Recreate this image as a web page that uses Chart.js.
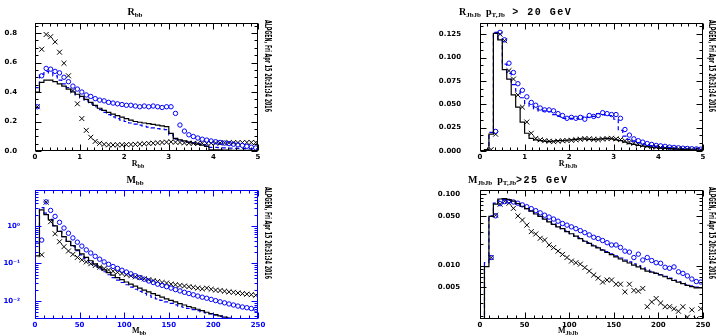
<!DOCTYPE html>
<html>
<head>
<meta charset="utf-8">
<script src="https://cdn.jsdelivr.net/npm/chart.js@4.4.1/dist/chart.umd.min.js"></script>
<style>
  body { margin: 0; background: #fff; }
  #wrap { position: relative; width: 716px; height: 336px; overflow: hidden; }
  canvas { position: absolute; }
</style>
</head>
<body>
<div id="wrap">
  <canvas id="c1" width="358" height="168" style="left:0;top:0"></canvas>
  <canvas id="c2" width="358" height="168" style="left:358px;top:0"></canvas>
  <canvas id="c3" width="358" height="168" style="left:0;top:168px"></canvas>
  <canvas id="c4" width="358" height="168" style="left:358px;top:168px"></canvas>
</div>
<script>
// ---- R_bb (50 bins, 0..5) ----
const rbbTruth = [0.18,0.40,0.465,0.48,0.48,0.47,0.455,0.44,0.42,0.40,
  0.385,0.37,0.35,0.33,0.31,0.29,0.275,0.262,0.25,0.24,
  0.23,0.22,0.21,0.20,0.195,0.19,0.185,0.18,0.175,0.17,
  0.165,0.12,0.085,0.075,0.068,0.06,0.053,0.047,0.04,0.032,
  0.008,0.007,0.007,0.006,0.006,0.005,0.005,0.004,0.004,0.003];
const rbbDash = [0.19,0.43,0.52,0.54,0.53,0.51,0.48,0.455,0.43,0.405,
  0.38,0.36,0.34,0.32,0.30,0.28,0.262,0.247,0.232,0.22,
  0.21,0.20,0.19,0.182,0.175,0.168,0.162,0.157,0.152,0.148,
  0.145,0.11,0.08,0.072,0.066,0.06,0.055,0.05,0.045,0.04,
  0.025,0.024,0.022,0.021,0.02,0.019,0.018,0.017,0.016,0.015];
const rbbCirc = [0.30,0.51,0.56,0.555,0.54,0.53,0.50,0.47,0.44,0.42,
  0.40,0.38,0.37,0.355,0.345,0.34,0.33,0.325,0.32,0.315,
  0.31,0.31,0.305,0.30,0.305,0.30,0.305,0.30,0.295,0.30,
  0.30,0.255,0.176,0.135,0.11,0.098,0.088,0.08,0.074,0.068,
  0.063,0.058,0.054,0.05,0.046,0.042,0.038,0.032,0.026,0.021];
const rbbCross = [0.30,0.69,0.79,0.775,0.74,0.67,0.595,0.51,0.41,0.32,
  0.22,0.14,0.093,0.065,0.052,0.045,0.042,0.041,0.042,0.042,
  0.043,0.044,0.045,0.047,0.049,0.051,0.053,0.055,0.058,0.06,
  0.062,0.06,0.058,0.055,0.053,0.052,0.051,0.052,0.052,0.053,
  0.054,0.055,0.055,0.056,0.056,0.057,0.057,0.058,0.058,0.058];

// ---- R_JbJb, pT > 20 GeV (50 bins, 0..5) ----
const rjjTruth = [0,0,0.0015,0.018,0.126,0.119,0.087,0.077,0.06,0.047,
  0.031,0.019,0.0135,0.012,0.011,0.0105,0.010,0.0105,0.011,0.011,
  0.0115,0.012,0.0125,0.013,0.013,0.0125,0.0122,0.0128,0.013,0.0135,
  0.013,0.012,0.011,0.0095,0.008,0.007,0.006,0.0052,0.0046,0.004,
  0.0035,0.0031,0.0028,0.0025,0.0022,0.002,0.0018,0.0015,0.0012,0.001];
const rjjDash = [0,0,0.0015,0.02,0.127,0.12,0.093,0.083,0.071,0.064,
  0.057,0.051,0.048,0.045,0.043,0.043,0.042,0.039,0.037,0.035,
  0.035,0.035,0.035,0.034,0.037,0.036,0.037,0.04,0.039,0.038,
  0.038,0.034,0.022,0.016,0.0125,0.0105,0.009,0.0077,0.0067,0.0058,
  0.0052,0.0047,0.004,0.0036,0.0032,0.0029,0.0026,0.0023,0.0021,0.0019];
const rjjCirc = [null,null,null,0.021,0.127,0.119,0.094,0.084,0.072,0.065,
  0.058,0.052,0.049,0.046,0.044,0.044,0.043,0.040,0.038,0.035,
  0.036,0.035,0.036,0.034,0.038,0.037,0.038,0.041,0.040,0.039,
  0.039,0.035,0.023,0.017,0.013,0.011,0.0095,0.008,0.007,0.006,
  0.0055,0.005,0.0042,0.0038,0.0034,0.003,0.0027,0.0024,0.0022,0.002];
const rjjCross = [null,null,0.0015,0.018,0.125,0.118,0.086,0.077,0.06,0.047,
  0.031,0.019,0.0135,0.012,0.011,0.0105,0.010,0.0105,0.011,0.0112,
  0.0115,0.012,0.0125,0.0132,0.013,0.0125,0.0122,0.0128,0.0132,0.0136,
  0.013,0.0122,0.011,0.0096,0.0082,0.0072,0.0062,0.0054,0.0047,0.0041,
  0.0036,0.0032,0.0029,0.0026,0.0023,0.0021,0.0019,0.0016,0.0013,0.0011];

// ---- M_bb (50 bins, 0..250), log ----
const mbbTruth = [0.0001,0.16,2.7,2.0,1.45,1.0,0.72,0.52,0.39,0.30,
  0.23,0.18,0.145,0.118,0.097,0.08,0.067,0.057,0.049,0.042,
  0.037,0.032,0.028,0.025,0.022,0.0195,0.0175,0.0157,0.014,0.0126,
  0.0114,0.0103,0.0094,0.0085,0.0078,0.0071,0.0065,0.006,0.0055,0.005,
  0.0046,0.0043,0.004,0.0037,0.0035,0.0033,0.0031,0.0029,0.0027,0.0026];
const mbbDash = [0.0001,0.35,3.1,2.2,1.5,1.02,0.72,0.52,0.385,0.29,
  0.22,0.17,0.135,0.108,0.088,0.072,0.06,0.05,0.042,0.036,
  0.031,0.027,0.0235,0.0205,0.018,0.016,0.0142,0.0127,0.0114,0.0103,
  0.0094,0.0086,0.0079,0.0073,0.0068,0.0063,0.0059,0.0055,0.0051,0.0048,
  0.0045,0.0042,0.0039,0.0037,0.0035,0.0033,0.0031,0.0029,0.0028,0.0026];
const mbbCirc = [null,0.42,4.4,2.6,1.8,1.25,0.88,0.64,0.48,0.37,
  0.29,0.23,0.19,0.155,0.13,0.11,0.095,0.083,0.074,0.066,
  0.059,0.053,0.047,0.042,0.038,0.034,0.031,0.028,0.026,0.024,
  0.022,0.020,0.0185,0.017,0.0158,0.0146,0.0135,0.0126,0.0118,0.011,
  0.0102,0.0095,0.0089,0.0083,0.0078,0.0073,0.0069,0.0066,0.0063,0.006];
const mbbCross = [null,0.17,4.3,1.3,0.62,0.38,0.28,0.215,0.175,0.145,
  0.125,0.11,0.098,0.088,0.08,0.073,0.067,0.062,0.058,0.054,
  0.05,0.047,0.044,0.042,0.039,0.037,0.035,0.033,0.031,0.03,
  0.028,0.027,0.026,0.025,0.024,0.023,0.022,0.021,0.022,0.0205,
  0.0195,0.019,0.0182,0.0175,0.017,0.0163,0.0157,0.0152,0.0147,0.0142];

// ---- M_JbJb, pT > 25 GeV (50 bins, 0..250), log ----
const mjjTruth = [0.0001,0.0001,0.0097,0.049,0.073,0.086,0.087,0.084,0.08,0.074,
  0.068,0.063,0.058,0.053,0.049,0.045,0.041,0.038,0.035,0.033,
  0.030,0.028,0.026,0.024,0.022,0.0205,0.019,0.0178,0.0165,0.0153,
  0.0143,0.0133,0.0124,0.0116,0.0109,0.0102,0.0096,0.009,0.0084,0.0081,
  0.0078,0.0074,0.007,0.0066,0.0062,0.0059,0.0056,0.0053,0.0051,0.0049];
const mjjDash = [0.0001,0.0001,0.011,0.05,0.075,0.083,0.084,0.082,0.078,0.073,
  0.068,0.063,0.058,0.054,0.05,0.046,0.042,0.039,0.036,0.033,
  0.031,0.028,0.026,0.0245,0.0225,0.021,0.0195,0.018,0.0168,0.0157,
  0.0147,0.0137,0.0128,0.012,0.0113,0.0106,0.01,0.0094,0.0088,0.0083,
  0.0079,0.0075,0.0071,0.0067,0.0063,0.006,0.0057,0.0054,0.0052,0.005];
const mjjCirc = [null,null,0.013,0.05,0.074,0.079,0.08,0.078,0.075,0.071,
  0.067,0.063,0.059,0.055,0.051,0.048,0.045,0.042,0.039,0.037,
  0.035,0.033,0.031,0.029,0.027,0.025,0.024,0.0225,0.021,0.0195,
  0.0195,0.018,0.016,0.0155,0.013,0.0145,0.012,0.013,0.0118,0.011,
  0.0108,0.0095,0.0092,0.0096,0.0082,0.0078,0.0072,0.0065,0.006,0.0059];
const mjjCross = [null,null,0.013,0.051,0.0725,0.08,0.075,0.0636,0.0497,0.0436,
  0.037,0.030,0.0278,0.0242,0.0229,0.0195,0.0179,0.016,0.0144,0.013,
  0.0116,0.011,0.0105,0.0094,0.0084,0.0074,0.0067,0.0059,0.0063,0.0063,
  0.0055,0.0055,0.0043,0.0055,0.0045,0.0044,0.0048,0.00266,0.0031,0.00347,
  0.003,0.00266,0.00266,0.00249,0.0023,0.00266,0.0019,0.0024,0.0018,0.0025];

const BLUE = '#0000ff';
const STAMP = 'ALPGEN, Fri Apr 15 20:31:34 2016';
const SERIF = '"Liberation Serif", serif';
const MONO = '"Liberation Mono", monospace';

function binEdges(lo, hi, n) {
  const e = [];
  for (let i = 0; i <= n; i++) e.push(lo + (hi - lo) * i / n);
  return e;
}
function histPoints(edges, vals) {
  const pts = vals.map((v, i) => ({x: edges[i], y: v}));
  pts.push({x: edges[edges.length - 1], y: vals[vals.length - 1]});
  return pts;
}
function markPoints(edges, vals) {
  return vals.map((v, i) => ({x: (edges[i] + edges[i + 1]) / 2, y: v})).filter(p => p.y !== null);
}

function rich(ctx, parts, x, y, align) {
  let w = 0;
  for (const p of parts) { ctx.font = p.f; ctx.letterSpacing = p.ls || '0px'; w += ctx.measureText(p.t).width; }
  let cx = align === 'center' ? x - w / 2 : x;
  for (const p of parts) {
    ctx.font = p.f; ctx.letterSpacing = p.ls || '0px';
    ctx.fillText(p.t, cx, y + (p.dy || 0));
    cx += ctx.measureText(p.t).width;
  }
  ctx.letterSpacing = '0px';
}

function decor(p) {
  return {
    id: 'decor',
    afterDatasetsDraw(chart) {
      const {ctx, chartArea: a, scales: {x, y}} = chart;
      ctx.save();
      ctx.strokeStyle = p.frameColor;
      ctx.lineWidth = 1;
      const L = Math.round(a.left) + 0.5, R = Math.round(a.right) - 0.5;
      const T = Math.round(a.top) + 0.5, B = Math.round(a.bottom) - 0.5;
      ctx.strokeRect(L, T, R - L, B - T);
      ctx.beginPath();
      // x ticks, bottom and top
      const xt = [];
      for (let v = p.xmin; v <= p.xmax + 1e-9; v += p.xminor) xt.push(v);
      xt.forEach(v => {
        const major = Math.abs(v / p.xstep - Math.round(v / p.xstep)) < 1e-6;
        const len = major ? 6 : 3;
        const px = Math.round(x.getPixelForValue(v)) + 0.5;
        ctx.moveTo(px, B); ctx.lineTo(px, B - len);
        ctx.moveTo(px, T); ctx.lineTo(px, T + len);
      });
      // y ticks, left and right
      const yt = [];
      if (p.ytype === 'logarithmic') {
        for (let d = Math.floor(Math.log10(p.ymin)); d <= Math.ceil(Math.log10(p.ymax)); d++) {
          for (let k = 1; k <= 9; k++) {
            const v = k * Math.pow(10, d);
            if (v >= p.ymin && v <= p.ymax) yt.push([v, k === 1 || p.yticks.some(t => Math.abs(t / v - 1) < 1e-6)]);
          }
        }
      } else {
        for (let v = 0; v <= p.ymax + 1e-9; v += p.yminor) {
          yt.push([v, p.yticks.some(t => Math.abs(t - v) < 1e-9)]);
        }
      }
      yt.forEach(([v, major]) => {
        const len = major ? 6 : 3;
        const py = Math.round(y.getPixelForValue(v)) + 0.5;
        ctx.moveTo(L, py); ctx.lineTo(L + len, py);
        ctx.moveTo(R, py); ctx.lineTo(R - len, py);
      });
      ctx.stroke();
      ctx.restore();
    },
    afterDraw(chart) {
      const ctx = chart.ctx;
      ctx.save();
      ctx.fillStyle = '#000';
      ctx.textBaseline = 'alphabetic';
      rich(ctx, p.title, p.titleX, 15, p.titleAlign);
      rich(ctx, p.xtitle, p.xtitleX, p.xtitleY, 'center');
      // vertical date stamp
      ctx.font = 'bold 8px "DejaVu Sans Condensed", "DejaVu Sans", sans-serif';
      const w = ctx.measureText(STAMP).width;
      ctx.translate(p.stampX, p.stampY);
      ctx.rotate(Math.PI / 2);
      ctx.scale(92 / w, 1);
      ctx.textBaseline = 'middle';
      ctx.fillText(STAMP, 0, 0);
      ctx.restore();
    }
  };
}

function panel(id, p) {
  const tickFont = {family: '"DejaVu Sans", sans-serif', size: 7, weight: 'bold'};
  new Chart(document.getElementById(id), {
    type: 'line',
    data: {
      datasets: [
        {data: histPoints(p.edges, p.truth), borderColor: '#000', borderWidth: 1.2,
         stepped: 'after', pointRadius: 0, fill: false},
        {data: histPoints(p.edges, p.dash), borderColor: BLUE, borderWidth: 1.2, borderDash: [4, 3],
         stepped: 'after', pointRadius: 0, fill: false},
        {data: markPoints(p.edges, p.circ), showLine: false, pointStyle: 'circle', pointRadius: 2.2,
         borderColor: BLUE, pointBackgroundColor: 'rgba(0,0,0,0)', pointBorderWidth: 1},
        {data: markPoints(p.edges, p.cross), showLine: false, pointStyle: 'crossRot', pointRadius: 3.5,
         borderColor: '#000', pointBorderWidth: 1}
      ]
    },
    options: {
      responsive: false,
      animation: false,
      events: [],
      layout: {padding: {top: p.top, right: p.right, left: 0, bottom: 0}},
      plugins: {legend: {display: false}, tooltip: {enabled: false}},
      scales: {
        x: {
          type: 'linear', min: p.xmin, max: p.xmax,
          grid: {display: false}, border: {display: false},
          ticks: {stepSize: p.xstep, autoSkip: false, maxRotation: 0, padding: -6,
                  color: p.labelColor, font: tickFont},
          afterFit(s) { s.height = 17; }
        },
        y: {
          type: p.ytype, min: p.ymin, max: p.ymax,
          grid: {display: false}, border: {display: false},
          afterBuildTicks(s) { s.ticks = p.yticks.map(v => ({value: v})); },
          ticks: {autoSkip: false, padding: p.ypad, color: p.labelColor, font: tickFont,
                  callback: v => p.ylabel(v)},
          afterFit(s) { s.width = p.left; }
        }
      }
    },
    plugins: [decor(p)]
  });
}

const e5 = binEdges(0, 5, 50);
const e250 = binEdges(0, 250, 50);

panel('c1', {
  edges: e5, truth: rbbTruth, dash: rbbDash, circ: rbbCirc, cross: rbbCross,
  left: 35, top: 23, right: 100,
  xmin: 0, xmax: 5, xstep: 1, xminor: 1 / 6,
  ytype: 'linear', ymin: 0, ymax: 0.868, yticks: [0, 0.2, 0.4, 0.6, 0.8], yminor: 0.05,
  ylabel: v => v.toFixed(1), ypad: 10, labelColor: '#000', frameColor: '#000',
  title: [{t: 'R', f: 'bold 10px ' + SERIF}, {t: 'bb', f: 'bold 7px ' + SERIF, dy: 2}],
  titleX: 135, titleAlign: 'center',
  xtitle: [{t: 'R', f: 'bold 8px ' + SERIF}, {t: 'bb', f: 'bold 6px ' + SERIF, dy: 1.5}],
  xtitleX: 138, xtitleY: 166,
  stampX: 267, stampY: 20
});

panel('c2', {
  edges: e5, truth: rjjTruth, dash: rjjDash, circ: rjjCirc, cross: rjjCross,
  left: 122, top: 23, right: 13,
  xmin: 0, xmax: 5, xstep: 1, xminor: 1 / 6,
  ytype: 'linear', ymin: 0, ymax: 0.137, yticks: [0, 0.025, 0.05, 0.075, 0.1, 0.125], yminor: 0.025 / 3,
  ylabel: v => v.toFixed(3), ypad: 11, labelColor: '#000', frameColor: '#000',
  title: [{t: 'R', f: 'bold 10px ' + SERIF}, {t: 'JbJb', f: 'bold 7px ' + SERIF, dy: 2},
          {t: '  p', f: 'bold 10px ' + SERIF}, {t: 'T,Jb', f: 'bold 7px ' + SERIF, dy: 2},
          {t: ' > 20 GeV', f: 'bold 10px ' + MONO, ls: '1.5px'}],
  titleX: 101, titleAlign: 'left',
  xtitle: [{t: 'R', f: 'bold 8px ' + SERIF}, {t: 'JbJb', f: 'bold 6px ' + SERIF, dy: 1.5}],
  xtitleX: 210, xtitleY: 166,
  stampX: 353, stampY: 20
});

const logLabels = {0.01: '10\u207B\u00B2', 0.1: '10\u207B\u00B9', 1: '10\u2070'};
panel('c3', {
  edges: e250, truth: mbbTruth, dash: mbbDash, circ: mbbCirc, cross: mbbCross,
  left: 35, top: 22, right: 100,
  xmin: 0, xmax: 250, xstep: 50, xminor: 10,
  ytype: 'logarithmic', ymin: 0.0033, ymax: 9.1, yticks: [0.01, 0.1, 1],
  ylabel: v => logLabels[v] || '', ypad: 7, labelColor: BLUE, frameColor: BLUE,
  title: [{t: 'M', f: 'bold 10px ' + SERIF}, {t: 'bb', f: 'bold 7px ' + SERIF, dy: 2}],
  titleX: 135, titleAlign: 'center',
  xtitle: [{t: 'M', f: 'bold 8px ' + SERIF}, {t: 'bb', f: 'bold 6px ' + SERIF, dy: 1.5}],
  xtitleX: 139, xtitleY: 165,
  stampX: 267, stampY: 19
});

panel('c4', {
  edges: e250, truth: mjjTruth, dash: mjjDash, circ: mjjCirc, cross: mjjCross,
  left: 122, top: 22, right: 13,
  xmin: 0, xmax: 250, xstep: 50, xminor: 10,
  ytype: 'logarithmic', ymin: 0.00179, ymax: 0.1149, yticks: [0.005, 0.01, 0.05, 0.1],
  ylabel: v => v.toFixed(3), ypad: 12, labelColor: '#000', frameColor: '#000',
  title: [{t: 'M', f: 'bold 10px ' + SERIF}, {t: 'JbJb', f: 'bold 7px ' + SERIF, dy: 2},
          {t: '  p', f: 'bold 10px ' + SERIF}, {t: 'T,Jb', f: 'bold 7px ' + SERIF, dy: 2},
          {t: '>25 GeV', f: 'bold 10px ' + MONO, ls: '1.5px'}],
  titleX: 110, titleAlign: 'left',
  xtitle: [{t: 'M', f: 'bold 8px ' + SERIF}, {t: 'JbJb', f: 'bold 6px ' + SERIF, dy: 1.5}],
  xtitleX: 210, xtitleY: 165,
  stampX: 353, stampY: 19
});
</script>
</body>
</html>
